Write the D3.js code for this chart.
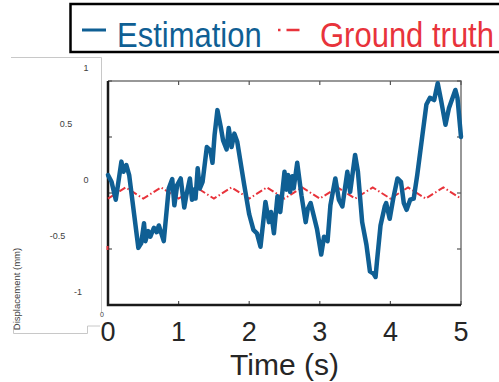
<!DOCTYPE html>
<html>
<head>
<meta charset="utf-8">
<script src="https://cdn.jsdelivr.net/npm/d3@7"></script>
<style>
  body { margin: 0; background: #fff; }
  svg { display: block; font-family: "Liberation Sans", Arial, Helvetica, sans-serif; }
</style>
</head>
<body>
<script>
// estimated displacement, sampled unevenly in time
var estTime = [0.00, 0.05, 0.11, 0.19, 0.22, 0.26, 0.30, 0.43, 0.47, 0.51, 0.53, 0.57, 0.60, 0.65, 0.69, 0.72, 0.79,
  0.86, 0.91, 0.94, 0.98, 1.03, 1.08, 1.11, 1.16, 1.19, 1.22, 1.24, 1.27, 1.30, 1.34, 1.40, 1.45, 1.48, 1.51, 1.55,
  1.60, 1.63, 1.68, 1.71, 1.75, 1.79, 1.83, 1.93, 2.00, 2.06, 2.11, 2.16, 2.23, 2.28, 2.31, 2.35, 2.40, 2.44, 2.50,
  2.53, 2.55, 2.58, 2.61, 2.63, 2.68, 2.74, 2.80, 2.83, 2.87, 2.96, 3.02, 3.06, 3.11, 3.15, 3.22, 3.27, 3.32, 3.39,
  3.43, 3.50, 3.54, 3.60, 3.66, 3.71, 3.76, 3.79, 3.81, 3.86, 3.92, 3.94, 3.99, 4.04, 4.10, 4.15, 4.19, 4.23, 4.28,
  4.33, 4.38, 4.45, 4.51, 4.56, 4.62, 4.67, 4.72, 4.78, 4.83, 4.92, 4.95, 5.00];
var estValue = [0.16, 0.10, -0.06, 0.28, 0.19, 0.25, 0.16, -0.49, -0.45, -0.27, -0.43, -0.34, -0.39, -0.31, -0.35, -0.29, -0.43,
  0.04, 0.125, -0.11, 0.07, 0.13, -0.13, -0.02, 0.13, -0.06, 0.03, -0.05, 0.22, 0.04, 0.10, 0.41, 0.38, 0.27, 0.52, 0.74,
  0.58, 0.47, 0.39, 0.58, 0.41, 0.53, 0.46, 0.07, -0.19, -0.33, -0.36, -0.48, -0.08, -0.26, -0.17, -0.36, -0.03, -0.17, 0.19,
  0.03, 0.16, 0.01, 0.15, 0.04, 0.27, -0.02, -0.26, -0.14, -0.09, -0.32, -0.55, -0.39, -0.43, -0.11, 0.13, -0.06, -0.12, 0.19,
  0.01, 0.34, 0.19, -0.26, -0.46, -0.70, -0.72, -0.75, -0.61, -0.29, -0.12, -0.09, -0.23, -0.05, 0.13, 0.10, -0.09, -0.15, -0.06,
  -0.05, 0.16, 0.50, 0.79, 0.85, 0.83, 0.98, 0.82, 0.61, 0.76, 0.92, 0.85, 0.50];

// ground truth, every 0.25 s
var truthTime = d3.range(21).map(function(i) { return i * 0.25; });
var truthValue = [-0.05, 0.05, -0.05, 0.05, -0.05, 0.05, -0.05, 0.05, -0.05, 0.05, -0.05,
  0.05, -0.05, 0.05, -0.05, 0.05, -0.05, 0.05, -0.05, 0.05, -0.05];

var xTicks = [0, 1, 2, 3, 4, 5];
var yTicks = [-1, -0.5, 0, 0.5, 1];
var yTickLabels = ["-1", "-0.5", "0", "0.5", "1"];
var legendNames = ["Estimation", "Ground truth"];

var blue = "#0f5f94",
    red = "#e8333b",
    ink = "#262626";

var width = 499,
    height = 382;

var svg = d3.select("body").append("svg")
    .attr("width", width)
    .attr("height", height);

var x = d3.scaleLinear().domain([0, 5]).range([108, 461]);
var y = d3.scaleLinear().domain([-1, 1]).range([305, 81]);

// leftover inset frame with its own small labels
var inset = svg.append("g").attr("fill", "none").attr("stroke", "#c8c8c8").attr("stroke-width", 1);
inset.append("path").attr("d", "M11,57.5H101.5V312");
inset.append("path").attr("d", "M100,326H87.5V333.5H13.5V326");

var insetX = [78, 57.5, 86, 66, 86];
svg.append("g")
    .attr("font-size", 9)
    .attr("fill", "#404040")
    .attr("text-anchor", "middle")
    .selectAll("text")
    .data(yTicks)
    .enter().append("text")
    .attr("x", function(d, i) { return insetX[i]; })
    .attr("y", function(d) { return y(d) - 13 + 3; })
    .text(function(d, i) { return yTickLabels[i]; });

svg.append("text")
    .attr("transform", "translate(20," + 289 + ") rotate(-90)")
    .attr("text-anchor", "middle")
    .attr("font-size", 9.5)
    .attr("fill", "#404040")
    .text("Displacement (mm)");

svg.append("text")
    .attr("x", 102).attr("y", 317)
    .attr("text-anchor", "middle")
    .attr("font-size", 7)
    .attr("fill", "#404040")
    .text("0");

// axes box
var axes = svg.append("g");
axes.append("path")
    .attr("d", "M" + x(0) + "," + y(1) + "H" + x(5) + "V" + y(-1))
    .attr("fill", "none").attr("stroke", "#777").attr("stroke-width", 1.5);

var tickLen = 4;
var ticks = axes.append("g").attr("stroke", "#555").attr("stroke-width", 1.2);
xTicks.forEach(function(t) {
    ticks.append("line").attr("x1", x(t)).attr("x2", x(t)).attr("y1", y(-1)).attr("y2", y(-1) - tickLen);
    ticks.append("line").attr("x1", x(t)).attr("x2", x(t)).attr("y1", y(1)).attr("y2", y(1) + tickLen);
});
yTicks.forEach(function(v) {
    ticks.append("line").attr("x1", x(0)).attr("x2", x(0) + tickLen).attr("y1", y(v)).attr("y2", y(v));
    ticks.append("line").attr("x1", x(5)).attr("x2", x(5) - tickLen).attr("y1", y(v)).attr("y2", y(v));
});

// series
var estLine = d3.line()
    .x(function(d, i) { return x(estTime[i]); })
    .y(function(d) { return y(d); });

var truthLine = d3.line()
    .x(function(d, i) { return x(truthTime[i]); })
    .y(function(d) { return y(d); });

svg.append("path")
    .datum(truthValue)
    .attr("d", truthLine)
    .attr("fill", "none")
    .attr("stroke", red)
    .attr("stroke-width", 2)
    .attr("stroke-dasharray", "7,2.5,1.5,2.5");

svg.append("path")
    .datum(estValue)
    .attr("d", estLine)
    .attr("fill", "none")
    .attr("stroke", blue)
    .attr("stroke-width", 4.5)
    .attr("stroke-linejoin", "round")
    .attr("stroke-linecap", "round");

// small red mark on the left axis
svg.append("line")
    .attr("x1", x(0) - 0.5).attr("x2", x(0) - 0.5)
    .attr("y1", y(-0.5) - 3).attr("y2", y(-0.5) + 1)
    .attr("stroke", red).attr("stroke-width", 2);

// left and bottom spines
axes.append("path")
    .attr("d", "M" + x(0) + "," + y(1) + "V" + y(-1) + "H" + x(5))
    .attr("fill", "none").attr("stroke", "#1a1a1a").attr("stroke-width", 2.5);

// x tick labels
svg.append("g")
    .attr("font-size", 27)
    .attr("fill", ink)
    .attr("text-anchor", "middle")
    .selectAll("text")
    .data(xTicks)
    .enter().append("text")
    .attr("x", function(d) { return x(d); })
    .attr("y", 341)
    .text(function(d) { return d; });

svg.append("text")
    .attr("x", (x(0) + x(5)) / 2)
    .attr("y", 375)
    .attr("text-anchor", "middle")
    .attr("font-size", 30)
    .attr("fill", ink)
    .text("Time (s)");

// legend
var legend = svg.append("g");
legend.append("rect")
    .attr("x", 70.5).attr("y", 4)
    .attr("width", 460).attr("height", 48)
    .attr("fill", "#fff")
    .attr("stroke", "#000")
    .attr("stroke-width", 2.5);

legend.append("line")
    .attr("x1", 82).attr("x2", 106).attr("y1", 30).attr("y2", 30)
    .attr("stroke", blue).attr("stroke-width", 3);

legend.append("text")
    .attr("transform", "translate(117,46.5) scale(1,1.15)")
    .attr("font-size", 31)
    .attr("fill", blue)
    .text(legendNames[0]);

legend.append("line")
    .attr("x1", 278).attr("x2", 302).attr("y1", 30).attr("y2", 30)
    .attr("stroke", red).attr("stroke-width", 2.5)
    .attr("stroke-dasharray", "2.5,6,13,10");

legend.append("text")
    .attr("transform", "translate(320,46.5) scale(1,1.15)")
    .attr("font-size", 31)
    .attr("fill", red)
    .text(legendNames[1]);
</script>
</body>
</html>
